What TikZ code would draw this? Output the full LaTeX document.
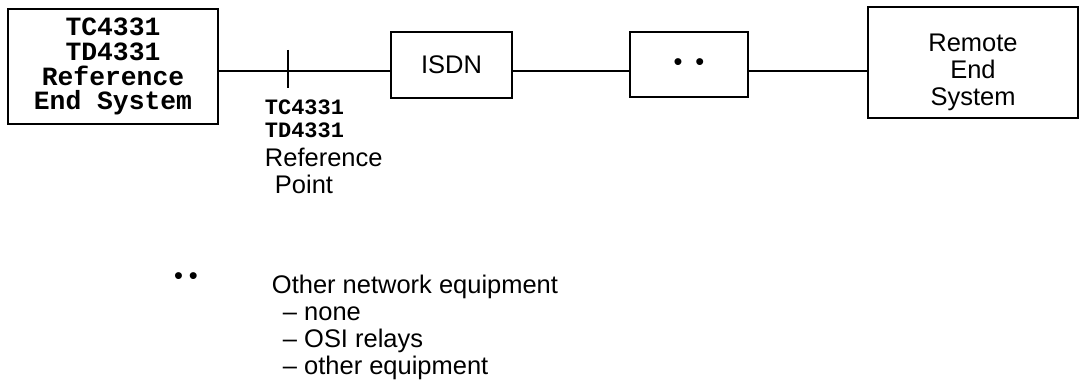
\documentclass[tikz,border=0pt]{standalone}
\usepackage{fontspec}
\setmainfont{Liberation Sans}
\newfontfamily\codefont{Liberation Mono}
\usepackage{tikz}
\usetikzlibrary{positioning}

\begin{document}
\begin{tikzpicture}[
    x=0.02cm, y=-0.02cm,
    every path/.style={line width=1.1pt},
    box/.style={
        draw,
        align=center,
        inner sep=2pt,
        font=\fontsize{14.5}{15.3}\selectfont
    },
    codebox/.style={
        draw,
        align=center,
        inner sep=2pt,
        font=\codefont\bfseries\fontsize{15}{14.2}\selectfont
    },
    codetext/.style={
        align=left,
        inner sep=0pt,
        font=\codefont\bfseries\fontsize{12.5}{13}\selectfont
    },
    note/.style={
        align=left,
        inner sep=0pt,
        font=\fontsize{14.5}{15.3}\selectfont
    }
]

\useasboundingbox (0,0) rectangle (1080,388);

% ==================== Chain of systems ====================
\node[codebox, minimum width=4.2cm, minimum height=2.3cm] (refsys) at (113,66.5)
{TC4331\\TD4331\\Reference\\End System};
\node[box, minimum width=2.42cm, minimum height=1.32cm] (isdn) at (451.5,65) {ISDN};
\node[box, minimum width=2.36cm, minimum height=1.3cm] (other) at (689,64.5)
{\textbullet\hspace{0.26cm}\textbullet};
\node[box, minimum width=4.2cm, minimum height=2.22cm] (remote) at (973,62.5)
{\rule{0pt}{0.74cm}Remote\\End\\System};

\coordinate (bus) at (0,71);
\draw (refsys.east |- bus) -- (isdn.west |- bus);
\draw (isdn.east |- bus) -- (other.west |- bus);
\draw (other.east |- bus) -- (remote.west |- bus);

% ==================== Reference point ====================
\coordinate (refpt) at (288,71);
\draw (refpt) ++(0,-21) -- ++(0,38);

\node[codetext, anchor=north west] (rpcode) at (264,99) {TC4331\\TD4331};
\node[note, anchor=north west] (rpname) at (264,147)
{Reference\\\hspace*{0.2cm}Point};

% ==================== Legend ====================
\node[note] (legdots) at (186,279) {\textbullet\hspace{0.12cm}\textbullet};
\node[note, anchor=north west] (legtext) at (271,274)
{Other network equipment\\
 \hspace*{0.22cm}\textendash{} none\\
 \hspace*{0.22cm}\textendash{} OSI relays\\
 \hspace*{0.22cm}\textendash{} other equipment};

\end{tikzpicture}
\end{document}
